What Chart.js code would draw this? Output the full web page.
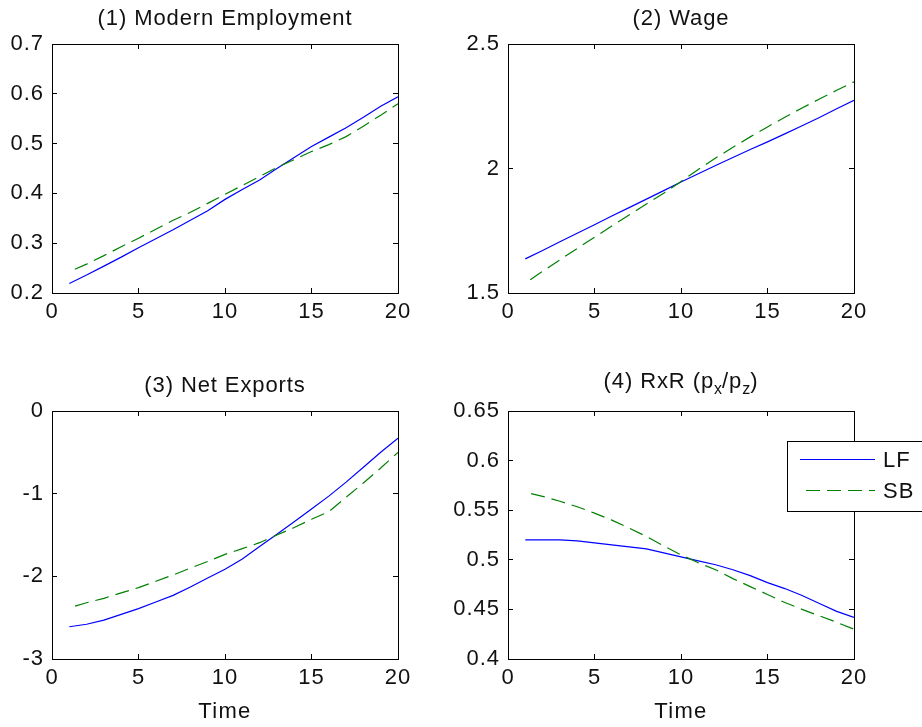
<!DOCTYPE html>
<html>
<head>
<meta charset="utf-8">
<script src="https://cdn.jsdelivr.net/npm/chart.js@4.4.1/dist/chart.umd.min.js"></script>
<style>
  html, body { margin: 0; padding: 0; background: #fff; }
  #wrap { position: relative; width: 922px; height: 727px; overflow: hidden; }
  canvas { position: absolute; left: 0; top: 0; }
  .lbl { position: absolute; font-family: "Liberation Sans", Arial, sans-serif; font-size: 22px;
         letter-spacing: 0.9px; line-height: 24px; color: #111; text-align: center; white-space: nowrap; }
  .lbl sub { font-size: 16px; vertical-align: -6px; line-height: 0; letter-spacing: 0; }
</style>
</head>
<body>
<div id="wrap">
  <canvas id="c1" width="922" height="727"></canvas>
  <canvas id="c2" width="922" height="727"></canvas>
  <canvas id="c3" width="922" height="727"></canvas>
  <canvas id="c4" width="922" height="727"></canvas>

  <div class="lbl" style="left:52px; width:346px; top:6px;">(1) Modern Employment</div>
  <div class="lbl" style="left:508px; width:346px; top:6px;">(2) Wage</div>
  <div class="lbl" style="left:52px; width:346px; top:373px;">(3) Net Exports</div>
  <div class="lbl" style="left:508px; width:346px; top:369px;">(4) RxR (p<sub>x</sub>/p<sub>z</sub>)</div>
  <div class="lbl" style="left:52px; width:346px; top:699px; letter-spacing:1.3px;">Time</div>
  <div class="lbl" style="left:508px; width:346px; top:699px; letter-spacing:1.3px;">Time</div>
</div>

<script>
// time periods on the x axis
const time = [1, 2, 3, 4, 5, 6, 7, 8, 9, 10, 11, 12, 13, 14, 15, 16, 17, 18, 19, 20];
const xTicks = [0, 5, 10, 15, 20];

// (1) modern employment
const empLF = [0.219, 0.236, 0.254, 0.272, 0.291, 0.309, 0.327, 0.346, 0.365, 0.388,
               0.408, 0.427, 0.450, 0.472, 0.494, 0.513, 0.532, 0.553, 0.575, 0.594];
const empSB = [0.243, 0.258, 0.275, 0.293, 0.310, 0.328, 0.346, 0.362, 0.380, 0.398,
               0.416, 0.434, 0.452, 0.468, 0.484, 0.498, 0.514, 0.535, 0.557, 0.580];
const empTicks = [0.2, 0.3, 0.4, 0.5, 0.6, 0.7];

// (2) wage
const wageLF = [1.637, 1.671, 1.706, 1.740, 1.774, 1.809, 1.843, 1.877, 1.911, 1.946,
                1.979, 2.012, 2.044, 2.076, 2.107, 2.139, 2.172, 2.205, 2.240, 2.274];
const wageSB = [1.540, 1.587, 1.633, 1.679, 1.724, 1.769, 1.813, 1.857, 1.901, 1.948,
                1.996, 2.042, 2.085, 2.127, 2.167, 2.206, 2.243, 2.279, 2.314, 2.348];
const wageTicks = [1.5, 2, 2.5];

// (3) net exports
const nxLF = [-2.61, -2.58, -2.53, -2.46, -2.39, -2.31, -2.23, -2.13, -2.02, -1.915,
              -1.79, -1.64, -1.49, -1.34, -1.185, -1.03, -0.86, -0.68, -0.50, -0.33];
const nxSB = [-2.38, -2.32, -2.266, -2.20, -2.137, -2.06, -1.984, -1.90, -1.82, -1.734,
              -1.665, -1.593, -1.50, -1.41, -1.31, -1.218, -1.044, -0.87, -0.69, -0.50];
const nxTicks = [-3, -2, -1, 0];

// (4) real exchange rate px/pz
const rxrLF = [0.520, 0.520, 0.520, 0.519, 0.517, 0.515, 0.513, 0.511, 0.507, 0.503,
               0.499, 0.495, 0.490, 0.484, 0.477, 0.471, 0.464, 0.456, 0.448, 0.442];
const rxrSB = [0.568, 0.564, 0.559, 0.5535, 0.547, 0.540, 0.532, 0.5235, 0.514, 0.505,
               0.497, 0.490, 0.481, 0.473, 0.465, 0.457, 0.450, 0.4435, 0.437, 0.430];
const rxrTicks = [0.4, 0.45, 0.5, 0.55, 0.6, 0.65];

const W = 922, H = 727;
const XH = 40;
const FONT = '"Liberation Sans", Arial, sans-serif';
Chart.defaults.font.family = FONT;
Chart.defaults.color = '#111';

// slightly looser letter spacing, like the MATLAB screen font
const spacing = {
  id: 'spacing',
  beforeDraw(chart) { chart.ctx.letterSpacing = '1px'; },
  afterDraw(chart) { chart.ctx.letterSpacing = '0px'; }
};

// MATLAB-like legend box, sitting over the top right of panel 4
const boxLegend = {
  id: 'boxLegend',
  afterDraw(chart) {
    const ctx = chart.ctx;
    ctx.save();
    ctx.fillStyle = '#fff';
    ctx.strokeStyle = '#000';
    ctx.lineWidth = 1;
    ctx.fillRect(787.5, 441.5, 150, 70);
    ctx.strokeRect(787.5, 441.5, 150, 70);
    const rows = [459.5, 490.5];
    chart.data.datasets.forEach((ds, i) => {
      ctx.strokeStyle = ds.borderColor;
      ctx.lineWidth = ds.borderWidth;
      ctx.setLineDash(ds.borderDash || []);
      ctx.beginPath();
      ctx.moveTo(i === 0 ? 800 : 806, rows[i]);
      ctx.lineTo(875, rows[i]);
      ctx.stroke();
      ctx.setLineDash([]);
      ctx.fillStyle = '#111';
      ctx.font = '22px ' + FONT;
      ctx.letterSpacing = '1px';
      ctx.textBaseline = 'middle';
      ctx.textAlign = 'left';
      ctx.fillText(ds.label, 883, rows[i] + 1);
    });
    ctx.restore();
  }
};

function setTicks(list) {
  return scale => { scale.ticks = list.map(v => ({ value: v })); };
}

function mirrorAxis(pos, min, max, list) {
  return {
    type: 'linear', position: pos, min: min, max: max,
    afterBuildTicks: setTicks(list),
    afterFit: s => { if (pos === 'top') s.height = 0; else s.width = 0; },
    grid: { drawOnChartArea: false, tickLength: -5, color: '#000' },
    border: { color: '#000', width: 1 },
    ticks: { display: false }
  };
}

function panel(id, box, yMin, yMax, yTicks, lf, sb, plugins) {
  // left panels start at the page edge, right panels leave room for "0.65"
  const padLeft = box.l < 100 ? 0 : 440;
  const yw = box.l - padLeft;
  return new Chart(document.getElementById(id), {
    type: 'line',
    data: {
      datasets: [
        { label: 'LF', data: time.map((t, i) => ({ x: t, y: lf[i] })),
          borderColor: '#0000ff', borderWidth: 1.2, pointRadius: 0, tension: 0, order: 2 },
        { label: 'SB', data: time.map((t, i) => ({ x: t, y: sb[i] })),
          borderColor: '#008000', borderWidth: 1.2, borderDash: [14, 7], borderDashOffset: 15,
          pointRadius: 0, tension: 0, order: 1 }
      ]
    },
    options: {
      responsive: false,
      animation: false,
      events: [],
      layout: { padding: { left: padLeft, right: W - box.r, top: box.t, bottom: H - box.b - XH } },
      plugins: { legend: { display: false }, tooltip: { enabled: false } },
      scales: {
        x: {
          type: 'linear', position: 'bottom', min: 0, max: 20,
          afterBuildTicks: setTicks(xTicks),
          afterFit: s => { s.height = XH; },
          grid: { drawOnChartArea: false, tickLength: -5, color: '#000' },
          border: { color: '#000', width: 1 },
          ticks: { padding: 11, autoSkip: false, maxRotation: 0, font: { size: 22 },
                   callback: v => String(v) }
        },
        y: {
          type: 'linear', position: 'left', min: yMin, max: yMax,
          afterBuildTicks: setTicks(yTicks),
          afterFit: s => { s.width = yw; },
          grid: { drawOnChartArea: false, tickLength: -5, color: '#000' },
          border: { color: '#000', width: 1 },
          ticks: { padding: 13, font: { size: 22 }, callback: v => String(v) }
        },
        x2: mirrorAxis('top', 0, 20, xTicks),
        y2: mirrorAxis('right', yMin, yMax, yTicks)
      }
    },
    plugins: [spacing].concat(plugins || [])
  });
}

panel('c1', { l: 52, r: 398, t: 44, b: 293 }, 0.2, 0.7, empTicks, empLF, empSB);
panel('c2', { l: 508, r: 854, t: 44, b: 293 }, 1.5, 2.5, wageTicks, wageLF, wageSB);
panel('c3', { l: 52, r: 398, t: 411, b: 659 }, -3, 0, nxTicks, nxLF, nxSB);
panel('c4', { l: 508, r: 854, t: 411, b: 659 }, 0.4, 0.65, rxrTicks, rxrLF, rxrSB, [boxLegend]);
</script>
</body>
</html>
